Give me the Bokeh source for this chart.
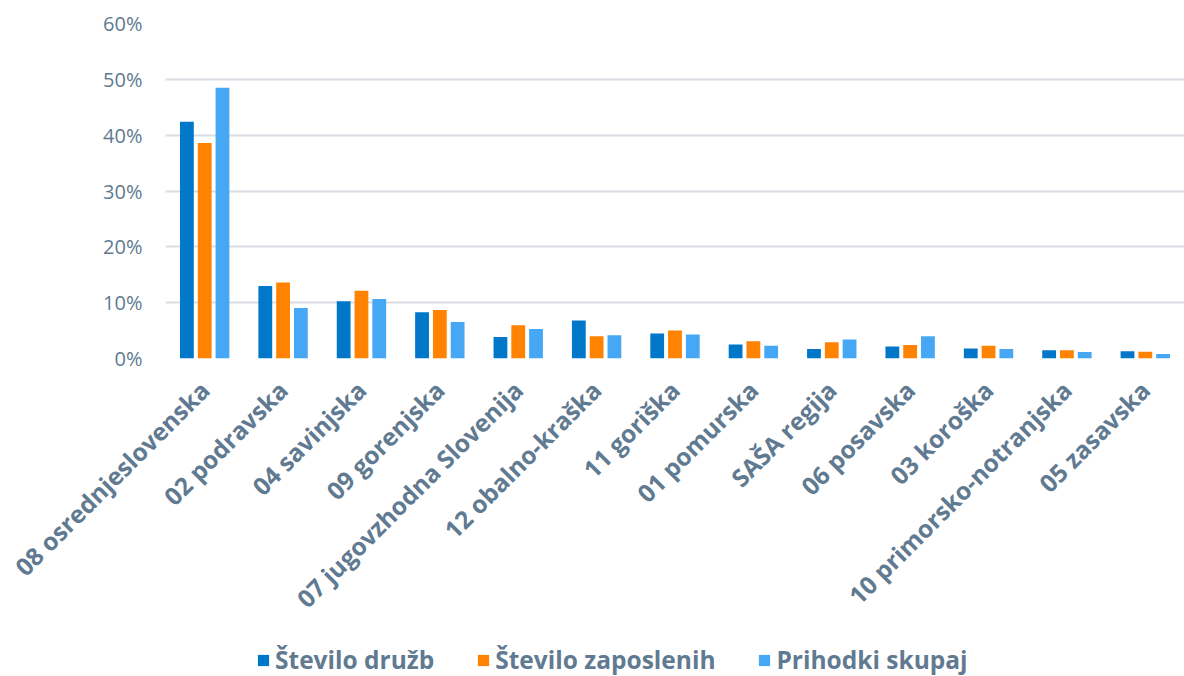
import math
from bokeh.plotting import figure
from bokeh.layouts import column
from bokeh.models import (ColumnDataSource, FactorRange, Range1d, NumeralTickFormatter,
                          Legend, LegendItem, FixedTicker)
from bokeh.transform import dodge
from bokeh.embed import file_html
from bokeh.resources import INLINE

regions = ["08 osrednjeslovenska", "02 podravska", "04 savinjska", "09 gorenjska",
           "07 jugovzhodna Slovenija", "12 obalno-kraška", "11 goriška", "01 pomurska",
           "SAŠA regija", "06 posavska", "03 koroška", "10 primorsko-notranjska", "05 zasavska"]
stevilo_druzb = [0.424, 0.130, 0.1025, 0.083, 0.0385, 0.068, 0.045, 0.025, 0.017, 0.0215, 0.018, 0.015, 0.013]
stevilo_zaposlenih = [0.386, 0.136, 0.1215, 0.087, 0.0595, 0.040, 0.050, 0.031, 0.029, 0.024, 0.023, 0.015, 0.012]
prihodki_skupaj = [0.485, 0.0905, 0.1066, 0.0654, 0.0529, 0.0416, 0.043, 0.023, 0.034, 0.040, 0.017, 0.0115, 0.008]
series_names = ["Število družb", "Število zaposlenih", "Prihodki skupaj"]
colors = ["#0077C8", "#FF8200", "#46A8F5"]
y_ticks = [0, 0.1, 0.2, 0.3, 0.4, 0.5, 0.6]

src = ColumnDataSource(dict(region=regions, a=stevilo_druzb, b=stevilo_zaposlenih, c=prihodki_skupaj))

FONT = "Open Sans"
TXT = "#5f7a91"

p = figure(x_range=FactorRange(factors=regions), y_range=Range1d(0, 0.6),
           width=1184, height=636, output_backend="svg", toolbar_location=None,
           min_border_left=165, min_border_right=0, min_border_top=23, min_border_bottom=278)

bw = 0.176
offs = [-0.227, 0.0, 0.227]
for col, off, c in zip(["a", "b", "c"], offs, colors):
    p.vbar(x=dodge("region", off, range=p.x_range), top=col, width=bw, source=src,
           fill_color=c, line_color=None)

p.outline_line_color = None
p.xgrid.grid_line_color = None
p.ygrid.ticker = FixedTicker(ticks=y_ticks)
p.ygrid.grid_line_color = "#d9dde3"
p.ygrid.grid_line_width = 2
p.ygrid.level = "underlay"

p.yaxis.ticker = FixedTicker(ticks=y_ticks)
p.yaxis.formatter = NumeralTickFormatter(format="0%")
p.yaxis.axis_line_color = None
p.yaxis.major_tick_line_color = None
p.yaxis.minor_tick_line_color = None
p.yaxis.major_label_standoff = 17
p.yaxis.major_label_text_font = FONT
p.yaxis.major_label_text_font_size = "20px"
p.yaxis.major_label_text_color = TXT

p.xaxis.axis_line_color = None
p.xaxis.major_tick_line_color = None
p.xaxis.major_label_orientation = math.pi / 4
p.xaxis.major_label_standoff = 21
p.xaxis.major_label_text_font = FONT
p.xaxis.major_label_text_font_size = "24.5px"
p.xaxis.major_label_text_font_style = "bold"
p.xaxis.major_label_text_color = TXT

# legend strip (separate figure below the chart)
lg = figure(x_range=Range1d(0, 1), y_range=Range1d(0, 1), width=1184, height=40,
            output_backend="svg", toolbar_location=None, x_axis_type=None, y_axis_type=None,
            min_border_left=0, min_border_right=0, min_border_top=0, min_border_bottom=0)
lg.grid.visible = False
lg.outline_line_color = None
rs = [lg.vbar(x=[-1.0], top=[0.0], width=0.0, fill_color=c, line_color=None) for c in colors]
legend = Legend(items=[LegendItem(label=n, renderers=[r]) for n, r in zip(series_names, rs)],
                orientation="horizontal", location=(91, 0), border_line_color=None,
                background_fill_alpha=0, label_text_font=FONT, label_text_font_size="24.5px",
                label_text_font_style="bold", label_text_color=TXT, glyph_width=14,
                glyph_height=14, spacing=42, label_standoff=5, padding=0, margin=0)
lg.add_layout(legend, "center")

layout = column(p, lg, spacing=0)
open("out.html", "w").write(file_html(layout, INLINE))
